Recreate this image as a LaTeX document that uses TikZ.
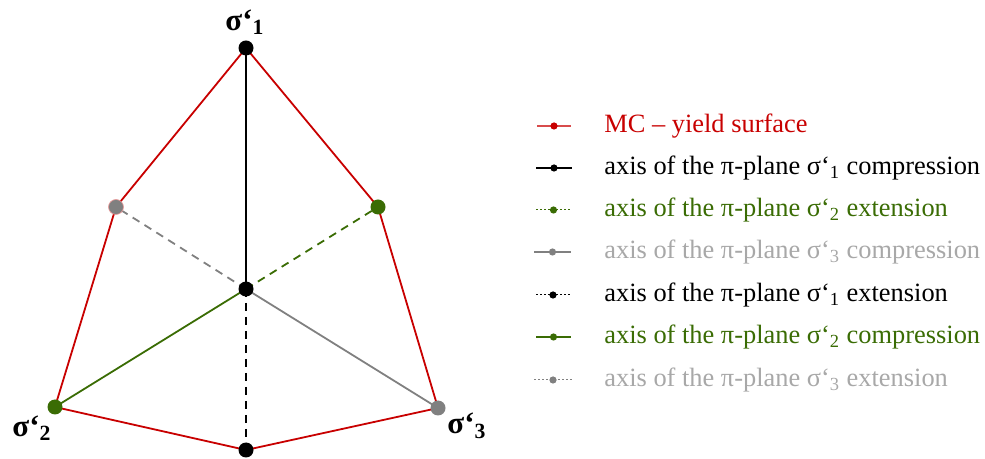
\documentclass[tikz,border=0pt]{standalone}
\usepackage{fontspec}
\setmainfont{Liberation Serif}
\usetikzlibrary{positioning}
\definecolor{mcred}{RGB}{200,0,0}
\definecolor{mcgreen}{RGB}{58,108,4}
\definecolor{mcgrey}{RGB}{128,128,128}
\definecolor{mclight}{RGB}{168,168,168}
\newcommand{\sig}[1]{σ‘\textsubscript{#1}}
\tikzset{
    cornerdot/.style={circle, fill, inner sep=0pt, minimum size=7.5pt},
    surface/.style={mcred, line width=0.9pt},
    axissolid/.style={line width=0.9pt},
    axisdash/.style={line width=0.9pt, dash pattern=on 4pt off 3pt},
    keysolid/.style={line width=0.6pt},
    keydots/.style={line width=0.5pt, dash pattern=on 1pt off 1pt},
    keydot/.style={circle, fill, inner sep=0pt, minimum size=3.6pt},
    keytext/.style={anchor=west, inner sep=0pt, font=\fontsize{13.2}{15}\selectfont},
    cornerlabel/.style={font=\fontsize{15.5}{18}\selectfont\bfseries}
}

\begin{document}
\begin{tikzpicture}[x=0.5pt, y=-0.5pt]
    \useasboundingbox (0,0) rectangle (985,459);

    % corners and centre of the pi-plane
    \coordinate (top) at (246,48);
    \coordinate (upleft) at (116,207);
    \coordinate (upright) at (378,207);
    \coordinate (centre) at (246,289);
    \coordinate (left) at (55,407);
    \coordinate (right) at (438,408);
    \coordinate (bottom) at (246,450);

    % axes
    \draw[axissolid] (top) -- (centre);
    \draw[axisdash] (centre) -- (bottom);
    \draw[axisdash, mcgreen] (centre) -- (upright);
    \draw[axisdash, mcgrey] (centre) -- (upleft);
    \draw[axissolid, mcgreen] (centre) -- (left);
    \draw[axissolid, mcgrey] (centre) -- (right);

    % yield surface
    \draw[surface] (top) -- (upright) -- (right) -- (bottom)
        -- (left) -- (upleft) -- cycle;

    \node[cornerdot] (n-top) at (top) {};
    \node[cornerdot, fill=mcgrey, draw=mcred!40, line width=0.3pt] (n-upleft) at (upleft) {};
    \node[cornerdot, fill=mcgreen] (n-upright) at (upright) {};
    \node[cornerdot] (n-centre) at (centre) {};
    \node[cornerdot, fill=mcgreen] (n-left) at (left) {};
    \node[cornerdot, fill=mcgrey] (n-right) at (right) {};
    \node[cornerdot] (n-bottom) at (bottom) {};

    \node[cornerlabel] (l-top) at (245,22) {\sig{1}};
    \node[cornerlabel] (l-left) at (32,428) {\sig{2}};
    \node[cornerlabel] (l-right) at (467,426) {\sig{3}};

    % legend
    \coordinate (k1a) at (537,126); \coordinate (k1b) at (571,126);
    \coordinate (k2a) at (536,168); \coordinate (k2b) at (572,168);
    \coordinate (k3a) at (536,210); \coordinate (k3b) at (571,210);
    \coordinate (k4a) at (534,252); \coordinate (k4b) at (571,252);
    \coordinate (k5a) at (536,295); \coordinate (k5b) at (570,295);
    \coordinate (k6a) at (536,337); \coordinate (k6b) at (571,337);
    \coordinate (k7a) at (534,380); \coordinate (k7b) at (572,380);

    \draw[keysolid, mcred!70] (k1a) -- node[keydot, mcred] (d1) {} (k1b);
    \draw[keysolid] (k2a) -- node[keydot] (d2) {} (k2b);
    \draw[keydots, mcgreen] (k3a) -- node[keydot] (d3) {} (k3b);
    \draw[keysolid, mcgrey] (k4a) -- node[keydot] (d4) {} (k4b);
    \draw[keydots] (k5a) -- node[keydot] (d5) {} (k5b);
    \draw[keysolid, mcgreen] (k6a) -- node[keydot] (d6) {} (k6b);
    \draw[keydots, mcgrey] (k7a) -- node[keydot] (d7) {} (k7b);

    \node[keytext, mcred] (t1) at (604,126) {MC – yield surface};
    \node[keytext] (t2) at (604,168) {axis of the π-plane \sig{1} compression};
    \node[keytext, mcgreen] (t3) at (604,210) {axis of the π-plane \sig{2} extension};
    \node[keytext, mclight] (t4) at (604,252) {axis of the π-plane \sig{3} compression};
    \node[keytext] (t5) at (604,295) {axis of the π-plane \sig{1} extension};
    \node[keytext, mcgreen] (t6) at (604,337) {axis of the π-plane \sig{2} compression};
    \node[keytext, mclight] (t7) at (604,380) {axis of the π-plane \sig{3} extension};
\end{tikzpicture}
\end{document}
